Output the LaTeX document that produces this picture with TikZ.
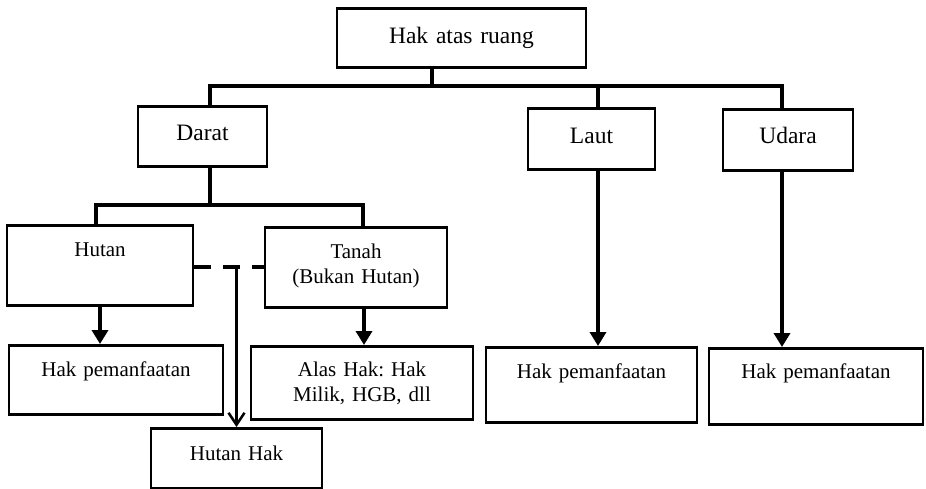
\documentclass[tikz,border=0pt]{standalone}
\usepackage{fontspec}
\setmainfont{Liberation Serif}
\usetikzlibrary{arrows.meta}
\frenchspacing
\tikzset{
  box/.style={draw=black, line width=2.5pt, inner sep=0pt, align=center, anchor=north,
    font=\fontsize{21}{25}\selectfont},
  bigbox/.style={box, font=\fontsize{23.5}{28}\selectfont},
  conn/.style={line width=4pt, line cap=rect},
  arr/.style={line width=4pt, -{Triangle[length=14pt,width=16pt]}},
  thinarr/.style={line width=2.5pt, -{Straight Barb[length=12pt,width=16pt,line width=2.5pt]}},
  dashline/.style={line width=4pt, dash pattern=on 17pt off 12pt}
}
\newcommand{\bxtxt}[3]{\rule{0pt}{#1pt}#3\rule[-#2pt]{0pt}{0pt}}
\begin{document}
\begin{tikzpicture}[x=1pt,y=-1pt]
\useasboundingbox (0,0) rectangle (926,488);
% boxes
\node[bigbox, text width=249pt] (top) at (461.5,7) {\bxtxt{35}{24}{Hak atas ruang}};
\node[bigbox, text width=129pt] (darat) at (202.5,105) {\bxtxt{34}{26}{Darat}};
\node[bigbox, text width=127pt] (laut) at (591.5,107) {\bxtxt{35}{26}{Laut}};
\node[bigbox, text width=130pt] (udara) at (788,108) {\bxtxt{34}{27}{Udara}};
\node[box, text width=186pt] (hutan) at (100,224) {\bxtxt{31}{49}{Hutan}};
\node[box, text width=182pt] (tanah) at (356,226) {\rule{0pt}{31pt}Tanah\\(Bukan Hutan)\rule[-24pt]{0pt}{0pt}};
\node[box, text width=214pt] (hp1) at (116,344) {\bxtxt{31}{38}{Hak pemanfaatan}};
\node[box, text width=222pt] (alas) at (362,345) {\rule{0pt}{30pt}Alas Hak: Hak\\Milik, HGB, dll\rule[-18pt]{0pt}{0pt}};
\node[box, text width=171pt] (hhak) at (236.5,427) {\bxtxt{32}{28}{Hutan Hak}};
\node[box, text width=211pt] (hp2) at (591.5,346) {\bxtxt{31}{44}{Hak pemanfaatan}};
\node[box, text width=214pt] (hp3) at (816,347) {\bxtxt{30}{46}{Hak pemanfaatan}};
% junction coordinates
\coordinate (cT) at (432,86);
\coordinate (cD) at (210,86);
\coordinate (cL) at (598,86);
\coordinate (cU) at (782,86);
\coordinate (dD) at (210,205);
\coordinate (dH) at (96,205);
\coordinate (dT) at (363,205);
\coordinate (ta) at (364,0);
\coordinate (dj) at (236.5,267);
% tree connectors
\draw[conn] (top.south -| cT) -- (cT);
\draw[conn] (darat.north -| cD) -- (cD) -- (cU) -- (udara.north -| cU);
\draw[conn] (cL) -- (laut.north -| cL);
\draw[conn] (darat.south -| dD) -- (dD);
\draw[conn] (hutan.north -| dH) -- (dH) -- (dT) -- (tanah.north -| dT);
% arrows
\draw[arr] (hutan.south) -- (hp1.north -| hutan.south);
\draw[arr] (tanah.south -| ta) -- (alas.north -| ta);
\draw[arr] (laut.south -| cL) -- (hp2.north -| cL);
\draw[arr] (udara.south -| cU) -- (hp3.north -| cU);
% dashed link and Hutan Hak
\draw[dashline] (hutan.east |- dj) -- (tanah.west |- dj);
\draw[thinarr] (dj) -- (hhak.north);
\end{tikzpicture}
\end{document}
